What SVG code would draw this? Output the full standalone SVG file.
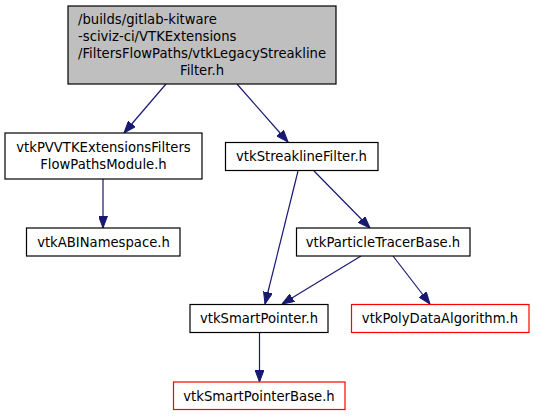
<svg xmlns="http://www.w3.org/2000/svg" width="535" height="416" viewBox="0 0 535 416">
<style>
.n rect{fill:#fff;stroke:#000;stroke-width:1.2}
.n.root rect{fill:#bfbfbf}
.n.ext rect{stroke:#ff0000}
text{font-family:"DejaVu Sans","Liberation Sans",sans-serif;font-size:13.2px;fill:#000}
.c{text-anchor:middle}
.e line{stroke:#191970;stroke-width:1.2;fill:none}
</style>
<defs>
<marker id="ah" viewBox="0 0 12 9" refX="12" refY="4.5" markerWidth="12" markerHeight="9" markerUnits="userSpaceOnUse" orient="auto">
<path d="M0,0 L12,4.5 L0,9 z" fill="#191970" stroke="#191970"/>
</marker>
</defs>
<rect width="535" height="416" fill="#fff"/>
<g id="edges" class="e">
<line x1="166" y1="84" x2="124" y2="133" marker-end="url(#ah)"/>
<line x1="237" y1="84" x2="288" y2="142" marker-end="url(#ah)"/>
<line x1="103" y1="179" x2="103" y2="228" marker-end="url(#ah)"/>
<line x1="298" y1="171" x2="265" y2="304" marker-end="url(#ah)"/>
<line x1="314" y1="171" x2="370" y2="228" marker-end="url(#ah)"/>
<line x1="361" y1="256" x2="282" y2="304" marker-end="url(#ah)"/>
<line x1="393" y1="256" x2="430" y2="304" marker-end="url(#ah)"/>
<line x1="259.5" y1="333" x2="259.5" y2="382" marker-end="url(#ah)"/>
</g>
<g id="root" class="n root">
<rect x="68" y="6" width="268" height="78"/>
<text x="78" y="24">/builds/gitlab-kitware</text>
<text x="78" y="41">-sciviz-ci/VTKExtensions</text>
<text x="78" y="58">/FiltersFlowPaths/vtkLegacyStreakline</text>
<text x="202" y="75" class="c">Filter.h</text>
</g>
<g id="pvvtk" class="n">
<rect x="5" y="133" width="197" height="46"/>
<text x="103.5" y="152" class="c">vtkPVVTKExtensionsFilters</text>
<text x="103.5" y="169" class="c">FlowPathsModule.h</text>
</g>
<g id="abi" class="n">
<rect x="26.5" y="228" width="153.5" height="28"/>
<text x="103.5" y="246.5" class="c">vtkABINamespace.h</text>
</g>
<g id="streak" class="n">
<rect x="225.5" y="142.5" width="152.5" height="28"/>
<text x="301.5" y="161" class="c">vtkStreaklineFilter.h</text>
</g>
<g id="ptb" class="n">
<rect x="296.5" y="228" width="173.5" height="28"/>
<text x="383" y="246.5" class="c">vtkParticleTracerBase.h</text>
</g>
<g id="sp" class="n">
<rect x="190" y="304.5" width="138" height="28"/>
<text x="259" y="323" class="c">vtkSmartPointer.h</text>
</g>
<g id="pda" class="n ext">
<rect x="351.5" y="304.5" width="177.5" height="28"/>
<text x="440" y="323" class="c">vtkPolyDataAlgorithm.h</text>
</g>
<g id="spb" class="n ext">
<rect x="173.5" y="382" width="171.5" height="27.5"/>
<text x="259" y="400.5" class="c">vtkSmartPointerBase.h</text>
</g>
</svg>
